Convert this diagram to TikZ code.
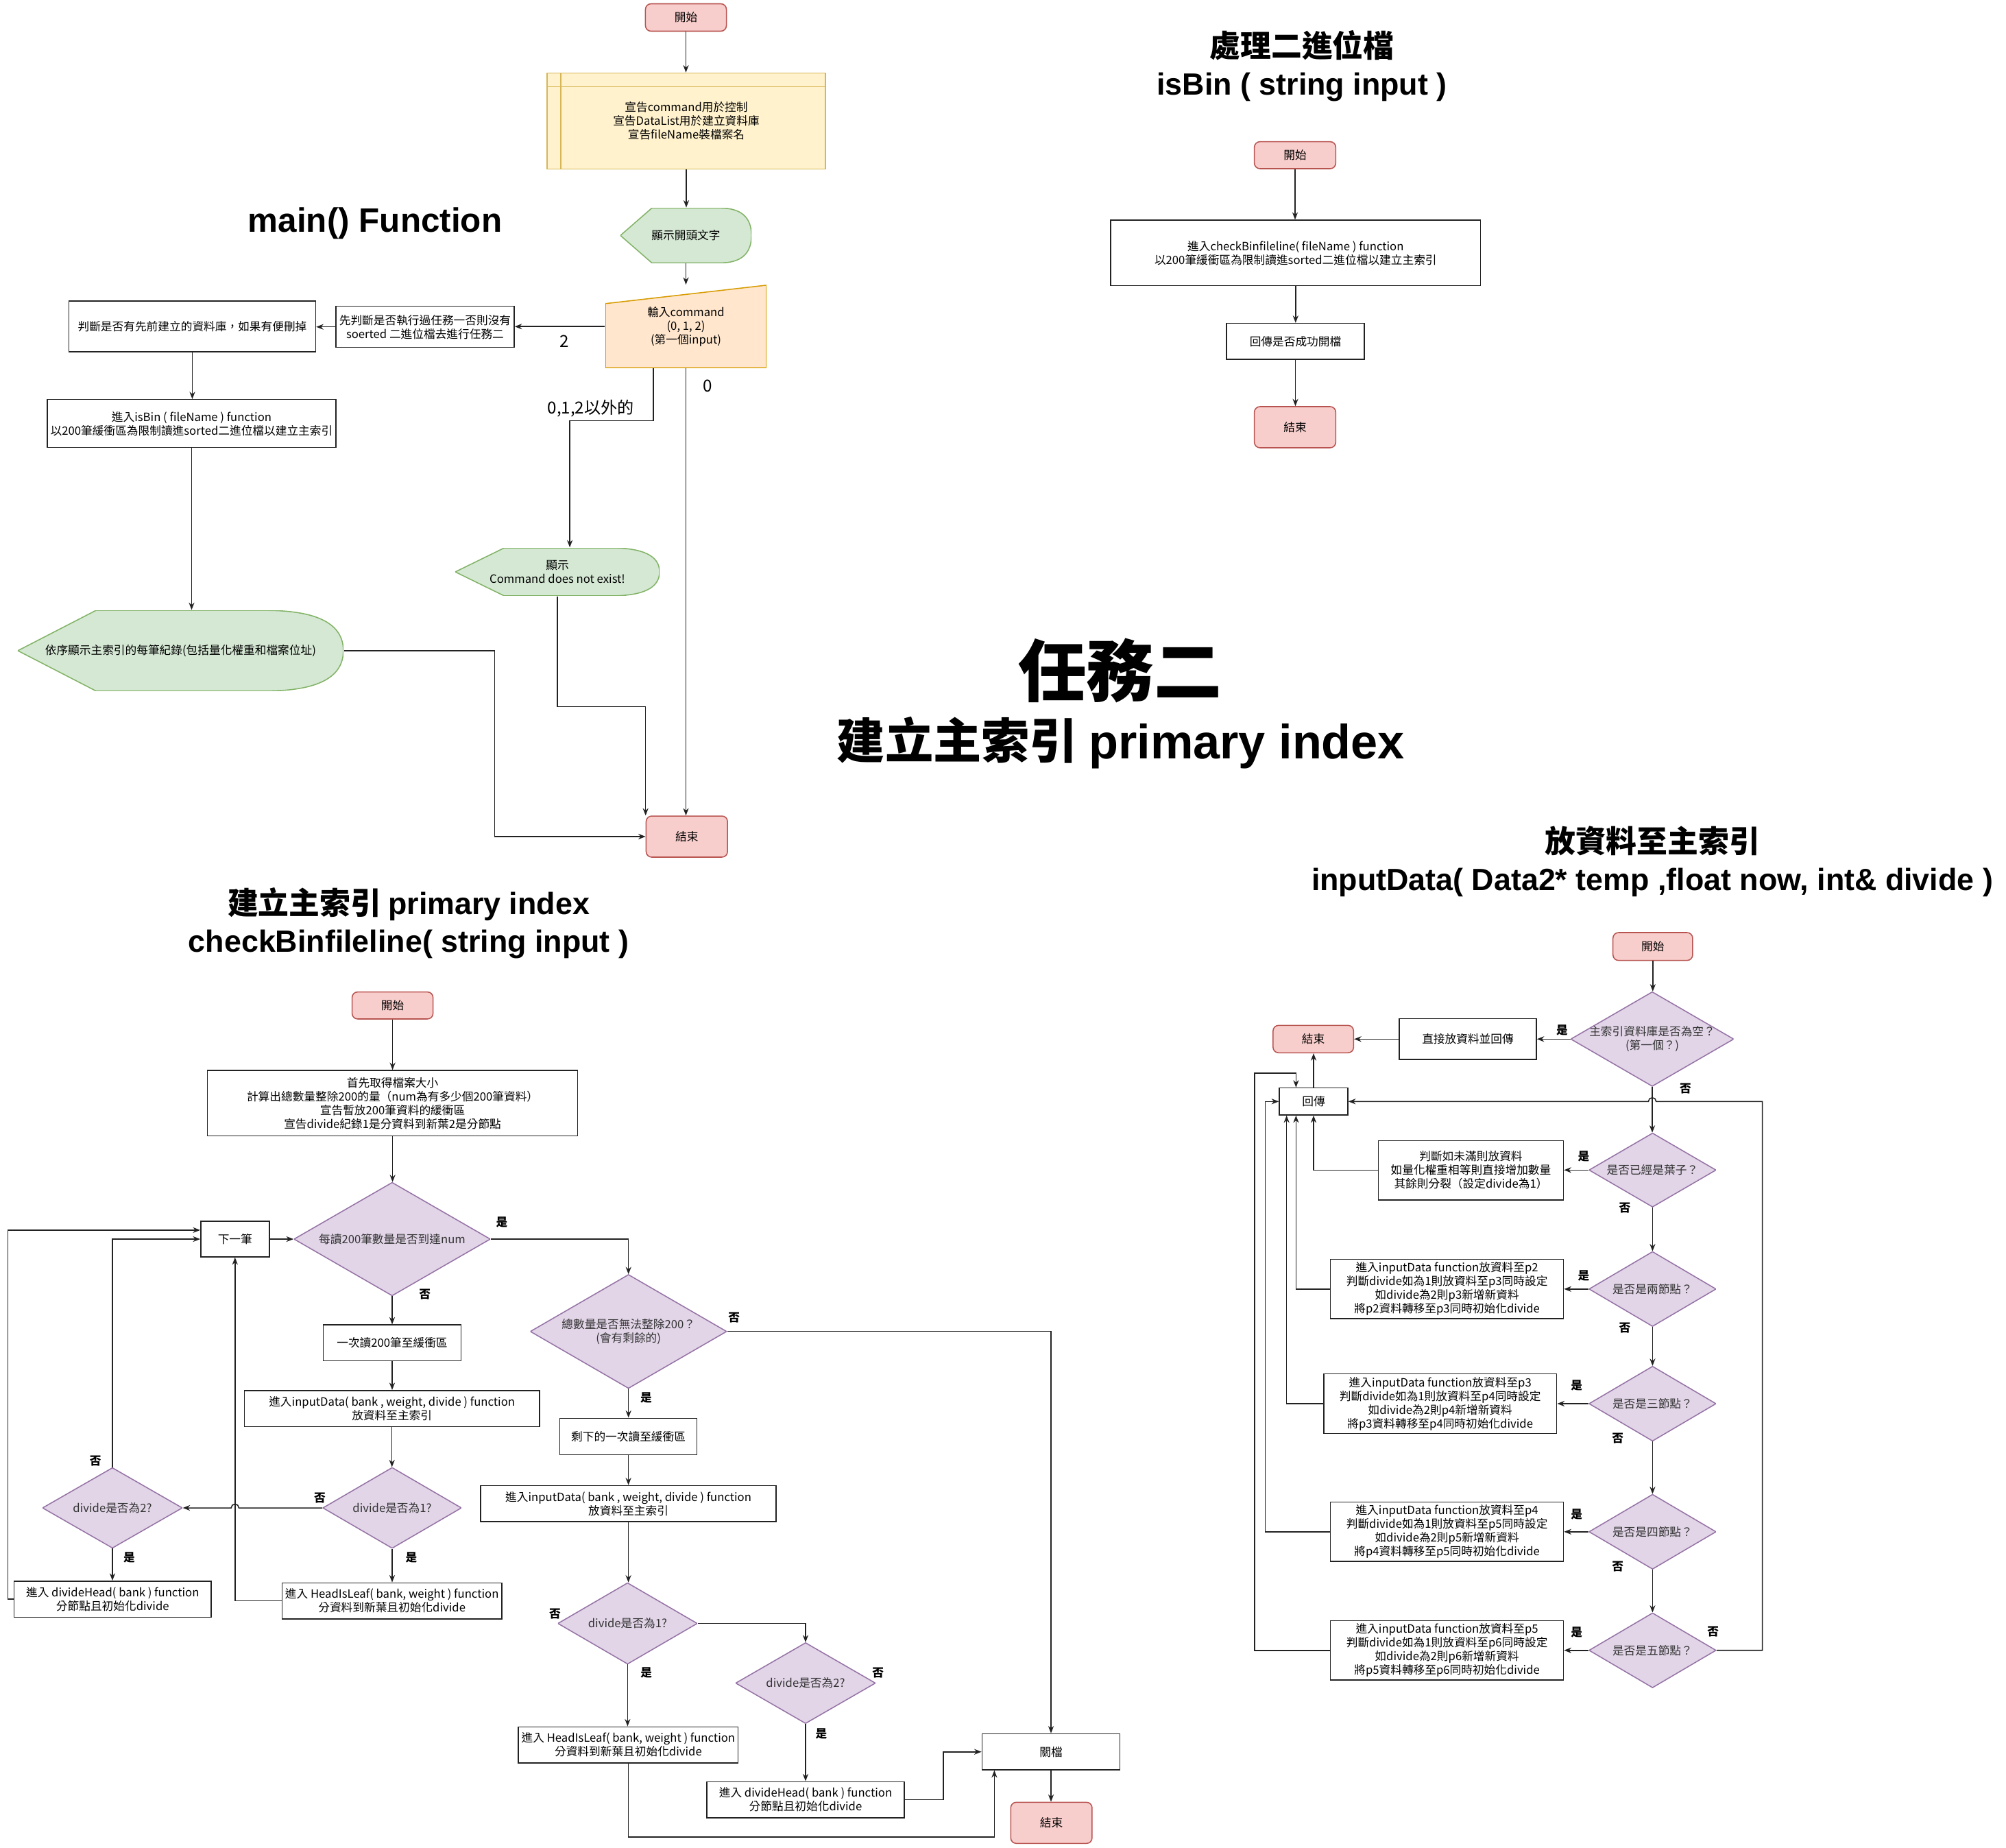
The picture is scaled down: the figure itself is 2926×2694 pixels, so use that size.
\documentclass[tikz,border=0pt]{standalone}
\usepackage{fontspec}
\setmainfont{Noto Sans CJK TC}
\newfontfamily\latinfont{Liberation Sans Bold}
\usetikzlibrary{arrows.meta, calc}
\definecolor{cred}{HTML}{F8CECC}
\definecolor{credline}{HTML}{B85450}
\definecolor{cyellow}{HTML}{FFF2CC}
\definecolor{cyellowline}{HTML}{D6B656}
\definecolor{cgreen}{HTML}{D5E8D4}
\definecolor{cgreenline}{HTML}{82B366}
\definecolor{corange}{HTML}{FFE6CC}
\definecolor{corangeline}{HTML}{D79B00}
\definecolor{cpurple}{HTML}{E1D5E7}
\definecolor{cpurpleline}{HTML}{9673A6}
\definecolor{cline}{HTML}{222222}
\tikzset{
  every picture/.style={line width=0.7pt},
  txt/.style={font=\fontsize{7.6}{9.1}\selectfont, align=center, inner sep=0pt},
  term/.style 2 args={txt, draw=credline, fill=cred, rounded corners=0.13cm,
    minimum width=#1, minimum height=#2},
  box/.style 2 args={txt, draw=cline, fill=white, minimum width=#1, minimum height=#2},
  store/.style 2 args={txt, draw=cyellowline, fill=cyellow, minimum width=#1, minimum height=#2,
    path picture={\draw[cyellowline]
      ([xshift=0.32cm]path picture bounding box.north west) -- ([xshift=0.32cm]path picture bounding box.south west)
      ([yshift=-0.32cm]path picture bounding box.north west) -- ([yshift=-0.32cm]path picture bounding box.north east);}},
  manin/.style 2 args={txt, minimum width=#1, minimum height=#2,
    path picture={\filldraw[draw=corangeline, fill=corange]
      (path picture bounding box.south west) -- ([yshift=-0.43cm]path picture bounding box.north west)
      -- (path picture bounding box.north east) -- (path picture bounding box.south east) -- cycle;}},
  disp/.style 2 args={txt, minimum width=#1, minimum height=#2,
    path picture={
      \coordinate (pw) at (path picture bounding box.west);
      \coordinate (pe) at (path picture bounding box.east);
      \coordinate (pa) at (path picture bounding box.north west);
      \coordinate (pb) at (path picture bounding box.north east);
      \coordinate (pc) at (path picture bounding box.south east);
      \coordinate (pd) at (path picture bounding box.south west);
      \filldraw[draw=cgreenline, fill=cgreen] (pw) -- ($(pa)!0.24!(pb)$) -- ($(pa)!0.76!(pb)$)
        .. controls ($(pa)!0.92!(pb)$) and ($(pe)!0.67!(pb)$) .. (pe)
        .. controls ($(pe)!0.67!(pc)$) and ($(pd)!0.92!(pc)$) .. ($(pd)!0.76!(pc)$)
        -- ($(pd)!0.24!(pc)$) -- cycle;}},
  dec/.style 2 args={txt, text=black!80, minimum width=#1, minimum height=#2,
    path picture={\filldraw[draw=cpurpleline, fill=cpurple]
      (path picture bounding box.north) -- (path picture bounding box.east)
      -- (path picture bounding box.south) -- (path picture bounding box.west) -- cycle;}},
  arr/.style={-{Stealth[length=1.7mm, width=1.3mm]}, draw=cline},
  lab/.style={font=\bfseries\fontsize{7.6}{9}\selectfont, inner sep=0pt},
  big/.style={font=\fontsize{11}{13}\selectfont, inner sep=0pt},
  title/.style={font=\bfseries\fontsize{20.4}{25}\selectfont, align=center, inner sep=0pt},
}

\begin{document}
\begin{tikzpicture}[x=0.016cm, y=-0.016cm]
  \fill[white] (0,0) rectangle (2926,2694);
  \useasboundingbox (0,0) rectangle (2926,2694);
  % titles
  \node[title, font=\fontsize{22.5}{26}\selectfont\latinfont] (t_main) at (547,326) {main() Function};
  \node[title] (t_isbin) at (1899,96) {處理二進位檔\\{\latinfont isBin ( string input )}};
  \node[title, font=\bfseries\fontsize{45}{50}\selectfont] (t_task) at (1634,978) {任務二};
  \node[title, font=\bfseries\fontsize{32}{36}\selectfont] (t_index) at (1635,1083) {建立主索引 {\latinfont primary index}};
  \node[title] (t_check) at (596,1346) {建立主索引 {\latinfont primary index}\\{\latinfont checkBinfileline( string input )}};
  \node[title] (t_input) at (2410,1256) {放資料至主索引\\{\latinfont inputData( Data2* temp ,float now, int\& divide )}};

  % main()
  \node[term={1.89cm}{0.64cm}] (m_start) at (1000.5,25.5) {開始};
  \node[store={6.5cm}{2.24cm}] (m_decl) at (1001,176.4) {宣告command用於控制\\宣告DataList用於建立資料庫\\宣告fileName裝檔案名};
  \node[disp={3.06cm}{1.28cm}] (m_show) at (1000.5,343.4) {顯示開頭文字};
  \node[manin={3.76cm}{1.93cm}] (m_input) at (1000.5,476.2) {輸入command\\(0, 1, 2)\\(第一個input)};
  \node[box={4.16cm}{0.96cm}] (m_check) at (620,476.7) {先判斷是否執行過任務一否則沒有\\soerted 二進位檔去進行任務二};
  \node[box={5.76cm}{1.18cm}] (m_del) at (280.5,476) {判斷是否有先前建立的資料庫，如果有便刪掉};
  \node[box={6.74cm}{1.12cm}] (m_isbin) at (279.5,617.7) {進入isBin ( fileName ) function\\以200筆緩衝區為限制讀進sorted二進位檔以建立主索引};
  \node[disp={7.6cm}{1.88cm}] (m_list) at (263.4,948.9) {依序顯示主索引的每筆紀錄(包括量化權重和檔案位址)};
  \node[disp={4.77cm}{1.12cm}] (m_cmd) at (813,834) {顯示\\Command does not exist!};
  \node[term={1.9cm}{0.96cm}] (m_end) at (1001.8,1220) {結束};
  \draw[arr] (m_start.south) -- (m_start.south |- m_decl.north);
  \draw[arr] (m_decl.south) -- (m_decl.south |- m_show.north);
  \draw[arr] (m_show.south) -- (m_show.south |- m_input.north);
  \draw[arr] (m_input.west) -- (m_input.west -| m_check.east);
  \draw[arr] (m_check.west) -- (m_check.west -| m_del.east);
  \draw[arr] (m_del.south) -- (m_del.south |- m_isbin.north);
  \draw[arr] (m_isbin.south) -- (m_isbin.south |- m_list.north);
  \draw[arr] (m_list.east) -- ++(3.52cm,0) |- (m_end.west);
  \draw[arr] ([xshift=-0.76cm]m_input.south) -- ++(0,-1.22cm) -| ([xshift=0.29cm]m_cmd.north);
  \draw[arr] (m_input.south) -- (m_input.south |- m_end.north);
  \draw[arr] (m_cmd.south) -- ++(0,-2.57cm) -| (m_end.north west);
  \node[big] (l_two) at (823,498) {2};
  \node[big] (l_zero) at (1032.6,563) {0};
  \node[big] (l_other) at (861.7,595.7) {0,1,2以外的};

  % isBin
  \node[term={1.9cm}{0.63cm}] (b_start) at (1889,226.3) {開始};
  \node[box={8.63cm}{1.53cm}] (b_call) at (1889.8,368.8) {進入checkBinfileline( fileName ) function\\以200筆緩衝區為限制讀進sorted二進位檔以建立主索引};
  \node[box={3.22cm}{0.84cm}] (b_ret) at (1889.5,497.8) {回傳是否成功開檔};
  \node[term={1.9cm}{0.96cm}] (b_end) at (1889,623) {結束};
  \draw[arr] (b_start.south) -- (b_start.south |- b_call.north);
  \draw[arr] (b_call.south) -- (b_call.south |- b_ret.north);
  \draw[arr] (b_ret.south) -- (b_ret.south |- b_end.north);

  % checkBinfileline
  \node[term={1.89cm}{0.63cm}] (c_start) at (572.6,1466.3) {開始};
  \node[box={8.64cm}{1.53cm}] (c_init) at (572.6,1608.8) {首先取得檔案大小\\計算出總數量整除200的量（num為有多少個200筆資料）\\宣告暫放200筆資料的緩衝區\\宣告divide紀錄1是分資料到新葉2是分節點};
  \node[dec={4.58cm}{2.64cm}] (c_loop) at (572,1807) {每讀200筆數量是否到達num};
  \node[box={1.6cm}{0.83cm}] (c_next) at (342.8,1807) {下一筆};
  \node[box={3.22cm}{0.84cm}] (c_read) at (572,1958.4) {一次讀200筆至緩衝區};
  \node[box={6.89cm}{0.84cm}] (c_put) at (571.7,2054) {進入inputData( bank , weight, divide ) function\\放資料至主索引};
  \node[dec={3.23cm}{1.88cm}] (c_div1) at (572,2199) {divide是否為1?};
  \node[dec={3.26cm}{1.87cm}] (c_div2) at (164,2199) {divide是否為2?};
  \node[box={5.13cm}{0.84cm}] (c_leaf) at (571.7,2334.6) {進入 HeadIsLeaf( bank, weight ) function\\分資料到新葉且初始化divide};
  \node[box={4.6cm}{0.84cm}] (c_split) at (164.3,2332) {進入 divideHead( bank ) function\\分節點且初始化divide};
  \node[dec={4.58cm}{2.65cm}] (c_rest) at (916.7,1941.7) {總數量是否無法整除200？\\(會有剩餘的)};
  \node[box={3.2cm}{0.85cm}] (c_left) at (916.6,2094.8) {剩下的一次讀至緩衝區};
  \node[box={6.9cm}{0.84cm}] (c_put2) at (916.6,2192.7) {進入inputData( bank , weight, divide ) function\\放資料至主索引};
  \node[dec={3.25cm}{1.89cm}] (c_div1b) at (915.4,2367.5) {divide是否為1?};
  \node[dec={3.26cm}{1.88cm}] (c_div2b) at (1175,2454.5) {divide是否為2?};
  \node[box={5.13cm}{0.84cm}] (c_leaf2) at (916.4,2544.5) {進入 HeadIsLeaf( bank, weight ) function\\分資料到新葉且初始化divide};
  \node[box={4.61cm}{0.84cm}] (c_split2) at (1175,2624.5) {進入 divideHead( bank ) function\\分節點且初始化divide};
  \node[box={3.22cm}{0.84cm}] (c_close) at (1533,2554.7) {關檔};
  \node[term={1.9cm}{0.96cm}] (c_end) at (1533.6,2658.3) {結束};
  \draw[arr] (c_start.south) -- (c_start.south |- c_init.north);
  \draw[arr] (c_init.south) -- (c_init.south |- c_loop.north);
  \draw[arr] (c_next.east) -- (c_loop.west);
  \draw[arr] (c_loop.east) -| (c_rest.north);
  \draw[arr] (c_loop.south) -- (c_read.north);
  \draw[arr] (c_read.south) -- (c_read.south |- c_put.north);
  \draw[arr] (c_put.south) -- (c_put.south |- c_div1.north);
  \draw[arr] (c_div1.west) -- ($(c_next.south |- c_div1.west)+(0.09cm,0)$) arc[start angle=0, end angle=180, radius=0.09cm] -- (c_div2.east);
  \draw[arr] (c_div1.south) -- (c_div1.south |- c_leaf.north);
  \draw[arr] (c_div2.south) -- (c_div2.south |- c_split.north);
  \draw[arr] (c_leaf.west) -| (c_next.south);
  \draw[arr] (c_split.west) -- ++(-0.13cm,0) |- ([yshift=0.21cm]c_next.west);
  \draw[arr] (c_div2.north) |- (c_next.west);
  \draw[arr] (c_rest.east) -| (c_close.north);
  \draw[arr] (c_rest.south) -- (c_rest.south |- c_left.north);
  \draw[arr] (c_left.south) -- (c_left.south |- c_put2.north);
  \draw[arr] (c_put2.south) -- (c_put2.south |- c_div1b.north);
  \draw[arr] (c_div1b.east) -| (c_div2b.north);
  \draw[arr] (c_div1b.south) -- (c_div1b.south |- c_leaf2.north);
  \draw[arr] (c_div2b.south) -- (c_div2b.south |- c_split2.north);
  \draw[arr] (c_leaf2.south) -- ++(0,-1.72cm) -| ([xshift=0.3cm]c_close.south west);
  \draw[arr] (c_split2.east) -- ++(0.9cm,0) |- (c_close.west);
  \draw[arr] (c_close.south) -- (c_close.south |- c_end.north);

  % inputData
  \node[term={1.86cm}{0.65cm}] (i_start) at (2410.8,1380.3) {開始};
  \node[dec={3.8cm}{2.2cm}] (i_empty) at (2410,1515.3) {主索引資料庫是否為空？\\(第一個？)};
  \node[box={3.2cm}{0.95cm}] (i_direct) at (2141,1515.3) {直接放資料並回傳};
  \node[term={1.88cm}{0.64cm}] (i_end) at (1915.6,1515.3) {結束};
  \node[box={1.6cm}{0.63cm}] (i_ret) at (1916,1606.3) {回傳};
  \node[dec={2.96cm}{1.72cm}] (i_leaf) at (2410.4,1706.3) {是否已經是葉子？};
  \node[box={4.32cm}{1.39cm}] (i_leafbox) at (2145.5,1706.7) {判斷如未滿則放資料\\如量化權重相等則直接增加數量\\其餘則分裂（設定divide為1）};
  \foreach \idx/\nxt/\nm/\yy/\bx in {2/3/兩/1879.8/2110.6, 3/4/三/2047/2100.7, 4/5/四/2233.8/2110.6, 5/6/五/2406.7/2110.6} {
    \node[dec={2.96cm}{1.74cm}] (i_d\idx) at (2410.4,\yy) {是否是{\nm}節點？};
    \node[box={5.44cm}{1.39cm}] (i_p\idx) at (\bx,\yy) {進入inputData function放資料至p{\idx}\\判斷divide如為1則放資料至p{\nxt}同時設定\\如divide為2則p{\nxt}新增新資料\\將p{\idx}資料轉移至p{\nxt}同時初始化divide};
    \draw[arr] (i_d\idx.west) -- (i_p\idx.east);
  }
  \draw[arr] (i_start.south) -- (i_start.south |- i_empty.north);
  \draw[arr] (i_empty.west) -- (i_direct.east);
  \draw[arr] (i_direct.west) -- (i_end.east);
  \draw[arr] (i_ret.north) -- (i_ret.north |- i_end.south);
  \draw[arr] (i_empty.south) -- (i_empty.south |- i_leaf.north);
  \draw[arr] (i_leaf.west) -- (i_leaf.west -| i_leafbox.east);
  \draw[arr] (i_leafbox.west) -| (i_ret.south);
  \draw[arr] (i_leaf.south) -- (i_d2.north);
  \foreach \idx/\nxt in {2/3, 3/4, 4/5} \draw[arr] (i_d\idx.south) -- (i_d\nxt.north);
  \draw[arr] (i_p2.west) -| ([xshift=-0.41cm]i_ret.south);
  \draw[arr] (i_p3.west) -| ([xshift=-0.63cm]i_ret.south);
  \draw[arr] (i_p4.west) -| ([xshift=-0.32cm]i_ret.west) -- (i_ret.west);
  \draw[arr] (i_p5.west) -- ++(-1.76cm,0) |- ($(i_ret.north)+(-0.41cm,0.33cm)$) -- ([xshift=-0.41cm]i_ret.north);
  \draw[arr] (i_d5.east) -- ++(1.07cm,0) |- ($(i_empty.south |- i_ret.east)+(0.09cm,0)$) arc[start angle=0, end angle=180, radius=0.09cm] -- (i_ret.east);

  % yes / no labels
  \foreach \x/\y/\word [count=\cnt] in {732/1782.6/是, 619.7/1887.5/否, 466.4/2184.4/否, 600/2271.4/是,
      188.5/2271.4/是, 139.3/2130.8/否, 1070.8/1922/否, 942.4/2038/是, 809.5/2353.3/否,
      942.8/2439.3/是, 1280.8/2439.3/否, 1197.9/2528.3/是,
      2278.5/1502.7/是, 2458.4/1587.3/否, 2310/1686/是, 2370/1762/否, 2310/1860/是, 2370/1936.7/否,
      2299.6/2020/是, 2359.6/2097.3/否, 2299.6/2208.3/是, 2359.6/2285/否, 2299.6/2380/是, 2498.6/2380/否}
    \node[lab] (yn\cnt) at (\x,\y) {\word};
\end{tikzpicture}
\end{document}
